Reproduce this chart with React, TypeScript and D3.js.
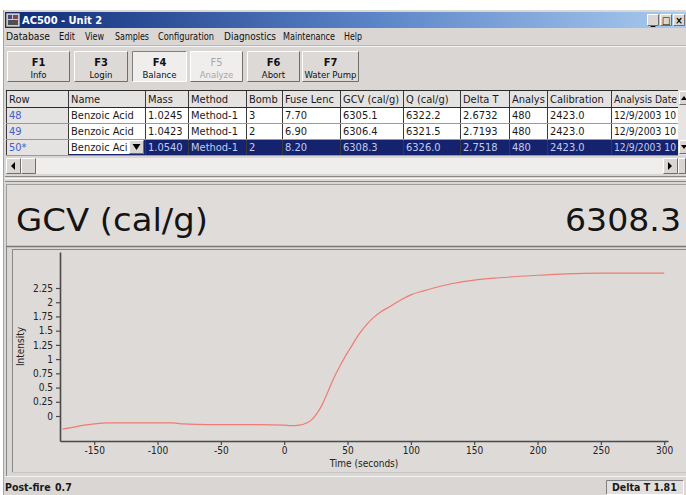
import React, { useEffect, useRef } from "react";
import * as d3 from "d3";

// ---------- chart data ----------
const timeSeconds = [-175, -165, -150, -140, -120, -100, -88, -80, -60, -40, -20, 0, 5, 12, 18, 22, 26, 30, 34, 39, 44, 48, 53, 57, 64, 70, 77, 84, 92, 100, 110, 118, 131, 150, 170, 197, 223, 250, 275, 300];
const intensity = [-0.23, -0.19, -0.14, -0.12, -0.12, -0.12, -0.12, -0.14, -0.15, -0.15, -0.15, -0.16, -0.17, -0.16, -0.12, -0.06, 0.05, 0.2, 0.4, 0.66, 0.88, 1.04, 1.22, 1.37, 1.58, 1.72, 1.84, 1.93, 2.04, 2.13, 2.2, 2.25, 2.32, 2.39, 2.43, 2.47, 2.5, 2.51, 2.51, 2.51];
const xTicks = [-150, -100, -50, 0, 50, 100, 150, 200, 250, 300];
const yTicks = [0, 0.25, 0.5, 0.75, 1, 1.25, 1.5, 1.75, 2, 2.25];

// ---------- UI texts ----------
const windowTitle = "AC500 - Unit 2";
const menuItems = ["Database", "Edit", "View", "Samples", "Configuration", "Diagnostics", "Maintenance", "Help"];
const fKeys = ["F1", "F3", "F4", "F5", "F6", "F7"];
const fLabels = ["Info", "Login", "Balance", "Analyze", "Abort", "Water Pump"];
const headers = ["Row", "Name", "Mass", "Method", "Bomb", "Fuse Lenc", "GCV (cal/g)", "Q (cal/g)", "Delta T", "Analys", "Calibration", "Analysis Date"];
const rowIds = ["48", "49", "50*"];
const names = ["Benzoic Acid", "Benzoic Acid", "Benzoic Aci"];
const masses = ["1.0245", "1.0423", "1.0540"];
const methods = ["Method-1", "Method-1", "Method-1"];
const bombs = ["3", "2", "2"];
const fuseLengths = ["7.70", "6.90", "8.20"];
const gcvs = ["6305.1", "6306.4", "6308.3"];
const qs = ["6322.2", "6321.5", "6326.0"];
const deltaTs = ["2.6732", "2.7193", "2.7518"];
const analysts = ["480", "480", "480"];
const calibrations = ["2423.0", "2423.0", "2423.0"];
const dates = ["12/9/2003 10", "12/9/2003 10", "12/9/2003 10"];
const bigLabel = "GCV (cal/g)";
const bigValue = "6308.3";
const xLabel = "Time (seconds)";
const yLabel = "Intensity";
const postFireLabel = "Post-fire";
const postFireValue = "0.7";
const deltaTStatus = "Delta T 1.81";

// ---------- layout ----------
const W = 686, H = 495;
const UI_FONT = "'DejaVu Sans Condensed', 'Liberation Sans', sans-serif";
const BG = "#d9d6d3";
const menuX = [6, 59, 85, 115, 158, 224, 283, 344];
const menuW = [44, 16, 19, 34, 56, 52, 52, 18];
const btnX = [7, 74, 132, 190, 247, 302];
const btnR = [70, 128, 187, 243, 300, 359];
const colEdges = [6, 68, 145, 188, 246, 282, 340, 403, 460, 509, 547, 611, 678];
const tableTop = 90, headerH = 17, rowH = 16;
const chart = { left: 60, right: 668, top: 252, bottom: 441 };

function Raised({ x, y, w, h, fill = BG, sunken = false }: any) {
  const light = sunken ? "#808080" : "#ffffff";
  const dark = sunken ? "#ffffff" : "#6e6e6e";
  return (
    <g>
      <rect x={x} y={y} width={w} height={h} fill={fill} />
      <path d={`M${x + 0.5},${y + h - 0.5} V${y + 0.5} H${x + w - 0.5}`} stroke={light} fill="none" />
      <path d={`M${x + 0.5},${y + h - 0.5} H${x + w - 0.5} V${y + 0.5}`} stroke={dark} fill="none" />
    </g>
  );
}

export default function App() {
  const xAxisRef = useRef<SVGGElement>(null);
  const yAxisRef = useRef<SVGGElement>(null);

  const x = d3.scaleLinear().domain([-177, 303]).range([chart.left, chart.right]);
  const y = d3.scaleLinear().domain([-0.4394, 2.883]).range([chart.bottom, chart.top]);

  const line = d3
    .line<number>()
    .x((_, i) => x(timeSeconds[i]))
    .y((d) => y(d))
    .curve(d3.curveMonotoneX);

  useEffect(() => {
    const style = (g: any) => {
      g.selectAll("path.domain").attr("stroke", "#4a4a4a").attr("stroke-width", 1.6);
      g.selectAll(".tick line").attr("stroke", "#4a4a4a").attr("stroke-width", 1.2);
      g.selectAll(".tick text").attr("fill", "#222").attr("font-family", UI_FONT).attr("font-size", 10);
    };
    if (xAxisRef.current) {
      const g = d3.select(xAxisRef.current);
      g.call(d3.axisBottom(x).tickValues(xTicks).tickSize(4).tickSizeOuter(0).tickPadding(2).tickFormat((d: any) => String(d)) as any);
      style(g);
    }
    if (yAxisRef.current) {
      const g = d3.select(yAxisRef.current);
      g.call(d3.axisLeft(y).tickValues(yTicks).tickSize(4).tickSizeOuter(0).tickPadding(3).tickFormat((d: any) => String(d)) as any);
      style(g);
    }
  });

  const columns = [rowIds, names, masses, methods, bombs, fuseLengths, gcvs, qs, deltaTs, analysts, calibrations, dates];

  return (
    <div style={{ position: "fixed", left: 0, top: 0 }}>
      <svg width={W} height={H} style={{ display: "block", fontFamily: UI_FONT }}>
        <defs>
          <linearGradient id="titleGrad" x1="0" x2="1" y1="0" y2="0">
            <stop offset="0" stopColor="#0d2a78" />
            <stop offset="0.55" stopColor="#5d86c8" />
            <stop offset="1" stopColor="#a9cbef" />
          </linearGradient>
        </defs>

        {/* page and window background */}
        <rect x={0} y={0} width={W} height={H} fill="#ffffff" />
        <rect x={3} y={10} width={W - 3} height={H - 10} fill={BG} />
        <line x1={3.5} y1={10} x2={3.5} y2={H} stroke="#a8a6a4" />

        {/* title bar */}
        <rect x={5} y={12} width={W - 5} height={16} fill="url(#titleGrad)" />
        <rect x={6} y={13} width={14} height={14} fill="#c8c8d8" stroke="#333" strokeWidth={0.6} />
        <rect x={8} y={15} width={4} height={4} fill="#4a4a7a" />
        <rect x={13} y={15} width={5} height={4} fill="#7a4a4a" />
        <rect x={8} y={20} width={10} height={5} fill="#505050" />
        <text x={22} y={24} fill="#ffffff" fontWeight="bold" fontSize={11}>{windowTitle}</text>
        {["_", "□", "×"].map((g, i) => (
          <g key={i}>
            <Raised x={647 + i * 13} y={14} w={12} h={12} />
            <text x={653 + i * 13} y={24} fontSize={10} fontWeight="bold" textAnchor="middle" fill="#000">{g}</text>
          </g>
        ))}

        {/* menu bar */}
        {menuItems.map((m, i) => (
          <text key={m} x={menuX[i]} y={40} fontSize={10.5} fill="#111" textLength={menuW[i]} lengthAdjust="spacingAndGlyphs">{m}</text>
        ))}
        <line x1={5} y1={45.5} x2={W} y2={45.5} stroke="#b8b5b2" />
        <line x1={5} y1={46.5} x2={W} y2={46.5} stroke="#f4f4f4" />

        {/* toolbar */}
        {fKeys.map((k, i) => {
          const pressed = i === 2;
          const disabled = i === 3;
          const bx = btnX[i], bw = btnR[i] - btnX[i];
          const cx = bx + bw / 2;
          return (
            <g key={k}>
              <Raised x={bx} y={51} w={bw} h={31} fill={pressed || disabled ? "#efeeed" : "#dcd9d6"} sunken={pressed} />
              <text x={cx} y={66} textAnchor="middle" fontSize={11} fontWeight={disabled ? "normal" : "bold"} fill={disabled ? "#a8a8a8" : "#111"}>{k}</text>
              <text x={cx} y={78} textAnchor="middle" fontSize={9.5} fill={disabled ? "#a8a8a8" : "#111"}>{fLabels[i]}</text>
            </g>
          );
        })}

        {/* table */}
        <rect x={colEdges[0]} y={tableTop} width={W - colEdges[0]} height={headerH + rowH * 3} fill="#ffffff" />
        {headers.map((h, i) => {
          const cw = colEdges[i + 1] - colEdges[i];
          return (
            <g key={h}>
              <rect x={colEdges[i]} y={tableTop} width={cw} height={headerH} fill="#e4e3e2" />
              <text x={colEdges[i] + 3} y={tableTop + 12.5} fontSize={11} fill="#1a1a1a"
                textLength={i === 11 ? cw - 4 : undefined} lengthAdjust="spacingAndGlyphs">{h}</text>
            </g>
          );
        })}
        {rowIds.map((_, r) => {
          const ry = tableTop + headerH + r * rowH;
          const selected = r === 2;
          return (
            <g key={r}>
              {selected && <rect x={colEdges[2]} y={ry} width={colEdges[12] - colEdges[2]} height={rowH} fill="#15236e" />}
              <rect x={colEdges[0]} y={ry} width={colEdges[1] - colEdges[0]} height={rowH} fill="#e4e3e2" />
              {columns.map((col, c) => {
                if (selected && c === 1) return null;
                const cw = colEdges[c + 1] - colEdges[c];
                return (
                  <text key={c} x={colEdges[c] + 3} y={ry + 12} fontSize={11}
                    textLength={c === 11 ? cw - 5 : undefined} lengthAdjust="spacingAndGlyphs"
                    fill={c === 0 ? "#4261c6" : selected ? "#c3cbef" : "#1a1a1a"}>{col[r]}</text>
                );
              })}
              {selected && (
                <g>
                  <rect x={colEdges[1]} y={ry} width={colEdges[2] - colEdges[1]} height={rowH} fill="#ffffff" />
                  <rect x={colEdges[1] + 0.5} y={ry + 0.5} width={colEdges[2] - colEdges[1] - 1} height={rowH - 1} fill="none" stroke="#15236e" />
                  <text x={colEdges[1] + 3} y={ry + 12} fontSize={11} fill="#1a1a1a">{names[r]}</text>
                  <Raised x={129} y={ry + 1} w={15} h={rowH - 2} />
                  <path d={`M132.5,${ry + 5} L140.5,${ry + 5} L136.5,${ry + 11} Z`} fill="#000" />
                </g>
              )}
            </g>
          );
        })}
        {colEdges.map((cx, i) => (
          <line key={i} x1={cx + 0.5} y1={tableTop} x2={cx + 0.5} y2={tableTop + headerH + rowH * 3} stroke="#3a3a3a" strokeWidth={1} />
        ))}
        {[0, 1, 2, 3, 4].map((k) => {
          const ly = k === 0 ? tableTop : tableTop + headerH + (k - 1) * rowH;
          return <line key={k} x1={colEdges[0]} y1={ly + 0.5} x2={678} y2={ly + 0.5} stroke={k <= 1 ? "#2a2a2a" : "#9a9a9a"} />;
        })}
        {/* vertical scrollbar */}
        <rect x={678} y={tableTop} width={8} height={headerH + rowH * 3} fill="#e6e5e4" />
        <Raised x={679} y={tableTop + 1} w={10} h={14} />
        <path d={`M681,${tableTop + 10} L684,${tableTop + 6} L687,${tableTop + 10} Z`} fill="#000" />
        <Raised x={679} y={tableTop + headerH + rowH * 2 + 1} w={10} h={14} />
        <path d={`M681,${tableTop + headerH + rowH * 2 + 6} L684,${tableTop + headerH + rowH * 2 + 10} L687,${tableTop + headerH + rowH * 2 + 6} Z`} fill="#000" />

        {/* horizontal scrollbar */}
        <rect x={6} y={158} width={672} height={16} fill="#efeeed" />
        <Raised x={6} y={158} w={15} h={16} />
        <path d="M11,166 L15,162 L15,170 Z" fill="#000" />
        <Raised x={21} y={158} w={15} h={16} />
        <Raised x={663} y={158} w={15} h={16} />
        <path d="M672,166 L668,162 L668,170 Z" fill="#000" />
        <Raised x={678} y={158} w={8} h={16} />
        <line x1={5} y1={176.5} x2={W} y2={176.5} stroke="#8a8886" />
        <line x1={5} y1={178.5} x2={W} y2={178.5} stroke="#fafafa" />
        <line x1={5} y1={181.5} x2={W} y2={181.5} stroke="#8a8886" />

        {/* big value panel */}
        <rect x={6} y={184} width={W - 6} height={62} fill="#dfdcda" />
        <line x1={6} y1={184.5} x2={W} y2={184.5} stroke="#a09e9c" />
        <line x1={6.5} y1={184} x2={6.5} y2={247} stroke="#a09e9c" />
        <line x1={6} y1={246.5} x2={W} y2={246.5} stroke="#7a7876" strokeWidth={1.5} />
        <text x={16} y={231} fontSize={32} fill="#141414" fontFamily="'DejaVu Sans', sans-serif" textLength={192} lengthAdjust="spacingAndGlyphs">{bigLabel}</text>
        <text x={681} y={231} fontSize={32} fill="#141414" fontFamily="'DejaVu Sans', sans-serif" textAnchor="end" textLength={116} lengthAdjust="spacingAndGlyphs">{bigValue}</text>

        {/* chart frame */}
        <rect x={12} y={249} width={W - 12} height={223} fill="#dddad8" />
        <line x1={12.5} y1={249} x2={12.5} y2={472} stroke="#8a8886" />
        <line x1={12} y1={249.5} x2={W} y2={249.5} stroke="#8a8886" />
        <line x1={12} y1={472.5} x2={W} y2={472.5} stroke="#c8c6c4" />
        <line x1={6.5} y1={247} x2={6.5} y2={476} stroke="#8a8886" />
        <line x1={5} y1={476.5} x2={W} y2={476.5} stroke="#f2f2f2" />

        {/* plot */}
        <path d={line(intensity) || ""} fill="none" stroke="#ef7b74" strokeWidth={1.2} />
        <g ref={xAxisRef} transform={`translate(0,${chart.bottom})`} />
        <g ref={yAxisRef} transform={`translate(${chart.left},0)`} />
        <text x={(chart.left + chart.right) / 2} y={467} textAnchor="middle" fontSize={10} fill="#222">{xLabel}</text>
        <text transform={`translate(24,${(chart.top + chart.bottom) / 2}) rotate(-90)`} textAnchor="middle" fontSize={10} fill="#222">{yLabel}</text>

        {/* status bar */}
        <text x={5} y={491} fontSize={10.5} fontWeight="bold" fill="#1a1a1a">{postFireLabel}</text>
        <text x={55} y={491} fontSize={10.5} fontWeight="bold" fill="#1a1a1a">{postFireValue}</text>
        <Raised x={606} y={480} w={78} h={15} sunken={true} fill="#e2e0de" />
        <text x={612} y={491} fontSize={10.5} fontWeight="bold" fill="#1a1a1a">{deltaTStatus}</text>
      </svg>
    </div>
  );
}
